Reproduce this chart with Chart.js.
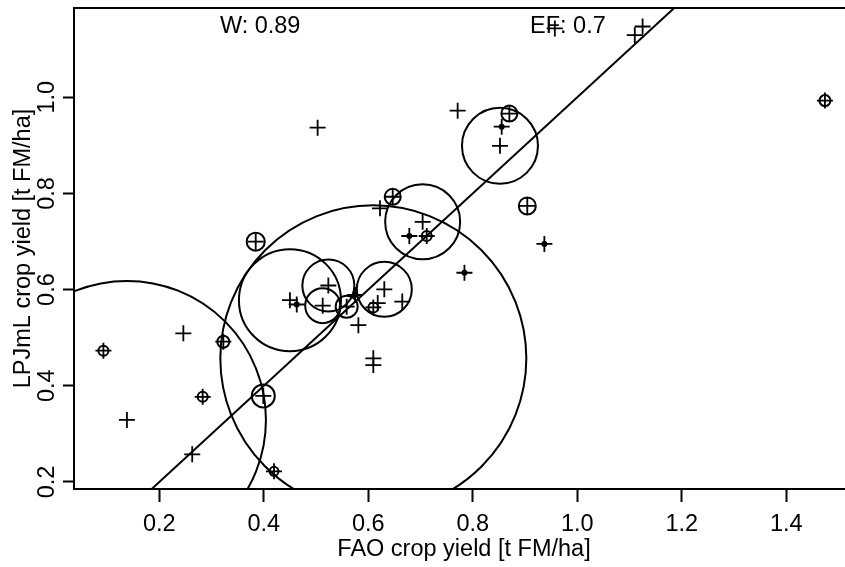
<!DOCTYPE html>
<html>
<head>
<meta charset="utf-8">
<title>FAO vs LPJmL crop yield</title>
<script src="https://cdn.jsdelivr.net/npm/chart.js@4.4.1/dist/chart.umd.min.js"></script>
<style>
  html, body { margin: 0; padding: 0; background: #fff; overflow: hidden; }
  #wrap { width: 845px; height: 567px; overflow: hidden; }
</style>
</head>
<body>
<div id="wrap"><canvas id="yieldChart" width="860" height="567"></canvas></div>
<script>
// observed (FAO) vs simulated (LPJmL) yields per country, t FM/ha
const faoYield = [
  0.093, 0.138, 0.246, 0.263, 0.283, 0.3225, 0.3845, 0.399, 0.4195,
  0.450, 0.463, 0.503, 0.5127, 0.5235, 0.5586, 0.5746, 0.581, 0.6096,
  0.6096, 0.6096, 0.618, 0.6224, 0.6306, 0.6467, 0.665, 0.6785, 0.704,
  0.7118, 0.771, 0.784, 0.852, 0.8553, 0.870, 0.9043, 0.937, 0.957,
  1.110, 1.125, 1.474
];
const lpjmlYield = [
  0.473, 0.329, 0.509, 0.2576, 0.377, 0.4917, 0.6996, 0.379, 0.2222,
  0.578, 0.569, 0.9366, 0.5666, 0.6085, 0.5645, 0.5888, 0.526, 0.457,
  0.443, 0.563, 0.572, 0.769, 0.6006, 0.793, 0.575, 0.7114, 0.741,
  0.7114, 0.972, 0.635, 0.899, 0.9387, 0.966, 0.774, 0.695, 1.143,
  1.129, 1.147, 0.993
];
// circle size per country (px), 0 = no circle
const circleRadius = [
  5, 139, 0, 0, 5, 6, 9, 11.5, 4.5,
  51, 2, 0, 17.5, 26, 11, 2, 0, 153,
  0, 5, 0, 0, 27.5, 8, 0, 2, 37.5,
  5, 0, 2, 38, 2, 8, 8.5, 2, 0,
  0, 0, 5.5
];

const xTicks = [0.2, 0.4, 0.6, 0.8, 1.0, 1.2, 1.4];
const yTicks = [0.2, 0.4, 0.6, 0.8, 1.0];
const xRange = [0.0367, 1.5296];
const yRange = [0.1854, 1.1855];
const identityLine = [0, 2];

const statLabels = ['W: 0.89', 'EF: 0.7'];
const statX = [0.393, 0.982];
const statY = 1.146;

const FONT = "'Liberation Sans', Arial, Helvetica, sans-serif";
const FONT_SIZE = 23.5;

const points = faoYield.map((x, i) => ({ x: x, y: lpjmlYield[i] }));
const bubbles = faoYield.map((x, i) => ({ x: x, y: lpjmlYield[i], r: circleRadius[i] }));

// box around the plot, rotated y labels and the statistics text
const framePlugin = {
  id: 'frame',
  afterDraw(chart) {
    const ctx = chart.ctx;
    const a = chart.chartArea;
    const xs = chart.scales.x, ys = chart.scales.y;
    ctx.save();
    ctx.strokeStyle = '#000';
    ctx.lineWidth = 2;
    ctx.strokeRect(a.left, a.top, a.right - a.left, a.bottom - a.top);

    ctx.fillStyle = '#000';
    ctx.font = FONT_SIZE + 'px ' + FONT;
    ctx.textAlign = 'center';
    ctx.textBaseline = 'middle';
    ys.ticks.forEach(t => {
      ctx.save();
      ctx.translate(47.5, ys.getPixelForValue(t.value));
      ctx.rotate(-Math.PI / 2);
      ctx.fillText(t.value.toFixed(1), 0, 0);
      ctx.restore();
    });

    statLabels.forEach((s, i) => {
      ctx.fillText(s, xs.getPixelForValue(statX[i]), ys.getPixelForValue(statY));
    });
    ctx.restore();
  }
};

new Chart(document.getElementById('yieldChart'), {
  data: {
    datasets: [
      {
        type: 'scatter',
        data: points,
        pointStyle: 'cross',
        pointRadius: 8,
        borderColor: '#000',
        borderWidth: 1.8
      },
      {
        type: 'bubble',
        data: bubbles,
        backgroundColor: c => (c.raw && c.raw.r < 3 ? '#000' : 'rgba(0,0,0,0)'),
        borderColor: '#000',
        borderWidth: 2,
        clip: 0
      },
      {
        type: 'line',
        data: identityLine.map(v => ({ x: v, y: v })),
        borderColor: '#000',
        borderWidth: 2,
        pointRadius: 0,
        fill: false,
        clip: 0
      }
    ]
  },
  options: {
    responsive: false,
    animation: false,
    events: [],
    layout: { autoPadding: false, padding: { top: 8, right: 6, left: 0, bottom: 0 } },
    plugins: { legend: { display: false }, tooltip: { enabled: false } },
    scales: {
      x: {
        type: 'linear',
        min: xRange[0],
        max: xRange[1],
        afterBuildTicks: s => { s.ticks = xTicks.map(v => ({ value: v })); },
        afterFit: s => { s.height = 78; },
        ticks: {
          color: '#000',
          font: { family: FONT, size: FONT_SIZE },
          padding: 8,
          autoSkip: false,
          maxRotation: 0,
          callback: v => v.toFixed(1)
        },
        grid: { drawOnChartArea: false, drawTicks: true, tickLength: 13, tickWidth: 2, tickColor: '#000' },
        border: { display: false },
        title: {
          display: true,
          text: 'FAO crop yield [t FM/ha]',
          color: '#000',
          font: { family: FONT, size: FONT_SIZE, lineHeight: 1.2 },
          padding: { top: 0, bottom: 3 }
        }
      },
      y: {
        type: 'linear',
        min: yRange[0],
        max: yRange[1],
        afterBuildTicks: s => { s.ticks = yTicks.map(v => ({ value: v })); },
        afterFit: s => { s.width = 74; },
        ticks: { display: false },
        grid: { drawOnChartArea: false, drawTicks: true, tickLength: 11, tickWidth: 2, tickColor: '#000' },
        border: { display: false },
        title: {
          display: true,
          text: 'LPJmL crop yield [t FM/ha]',
          color: '#000',
          font: { family: FONT, size: FONT_SIZE, lineHeight: 1.2 },
          padding: { top: 9, bottom: 0 }
        }
      }
    }
  },
  plugins: [framePlugin]
});
</script>
</body>
</html>
